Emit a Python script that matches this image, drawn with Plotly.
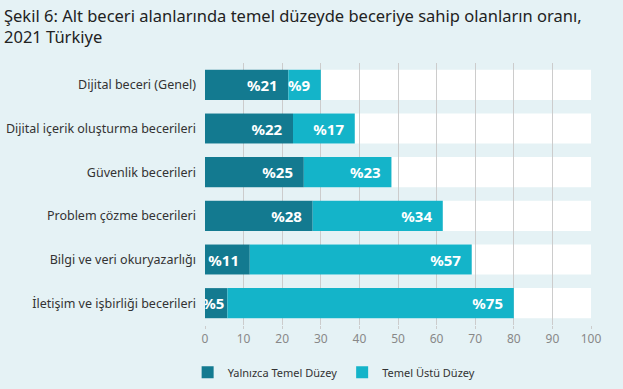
import plotly.graph_objects as go

categories = [
    "Dijital beceri (Genel)",
    "Dijital içerik oluşturma becerileri",
    "Güvenlik becerileri",
    "Problem çözme becerileri",
    "Bilgi ve veri okuryazarlığı",
    "İletişim ve işbirliği becerileri",
]
basic_values = [21.6, 22.8, 25.6, 27.9, 11.6, 5.8]
above_values = [8.4, 16.0, 22.7, 33.7, 57.5, 74.2]
basic_labels = ["%21", "%22", "%25", "%28", "%11", "%5"]
above_labels = ["%9", "%17", "%23", "%34", "%57", "%75"]
x_ticks = [0, 10, 20, 30, 40, 50, 60, 70, 80, 90, 100]
title_lines = ["Şekil 6: Alt beceri alanlarında temel düzeyde beceriye sahip olanların oranı,",
               "2021 Türkiye"]

DARK = "#137a90"
LIGHT = "#14b4c9"
BG = "#e5f2f5"
FONT = "Noto Sans"

W, H = 623, 389
ML, MR, MT, MB = 205, 32, 63, 64
plot_h = H - MT - MB

above_base = [b for b in basic_values]

fig = go.Figure()
pad = "\u00a0\u00a0"
fig.add_trace(go.Bar(
    y=categories, x=basic_values, base=[0] * len(categories), orientation="h",
    name="Yalnızca Temel Düzey", marker=dict(color=DARK, line=dict(width=0)),
    text=[t + (pad if i < 5 else "") for i, t in enumerate(basic_labels)],
    textposition="inside", insidetextanchor="end", textangle=0,
    textfont=dict(color="white", size=15, family=FONT, weight="bold"),
    width=0.69,
))
fig.add_trace(go.Bar(
    y=categories, x=above_values, base=above_base, orientation="h",
    name="Temel Üstü Düzey", marker=dict(color=LIGHT, line=dict(width=0)),
    text=[t + pad for t in above_labels],
    textposition="inside", insidetextanchor="end", textangle=0,
    textfont=dict(color="white", size=15, family=FONT, weight="bold"),
    width=0.69,
))

shapes = []
for i in range(len(categories)):
    shapes.append(dict(type="rect", xref="x", yref="y", x0=0, x1=100,
                       y0=i - 0.345, y1=i + 0.345, fillcolor="white",
                       line=dict(width=0), layer="below"))

fig.update_layout(
    width=W, height=H,
    paper_bgcolor=BG, plot_bgcolor=BG,
    barmode="overlay",
    margin=dict(l=ML, r=MR, t=MT, b=MB, autoexpand=False),
    font=dict(family=FONT, color="#333333"),
    showlegend=True,
    legend=dict(orientation="h", x=-0.045, xanchor="left", y=-0.125, yanchor="top",
                font=dict(size=11, color="#333333", family=FONT),
                bgcolor="rgba(0,0,0,0)", traceorder="normal"),
    uniformtext=dict(minsize=15, mode="show"),
    shapes=shapes,
    annotations=[dict(
        text="<br>".join(title_lines), xref="paper", yref="paper",
        x=-(ML - 2) / (W - ML - MR), xanchor="left",
        y=1 + (MT - 2) / plot_h, yanchor="top", align="left", showarrow=False,
        font=dict(size=16.5, color="#222222", family=FONT),
    )],
)
fig.update_xaxes(
    range=[0, 100], tickvals=x_ticks, showgrid=True, gridcolor="#cccccc", gridwidth=1,
    zeroline=False, showline=False, ticks="outside", ticklen=3, tickcolor="#cccccc",
    tickfont=dict(size=12, color="#888888", family=FONT), fixedrange=True,
    automargin=False,
)
fig.update_yaxes(
    categoryorder="array", categoryarray=categories, autorange="reversed",
    showgrid=False, zeroline=False, showline=False, automargin=False,
    ticks="", ticklabelstandoff=8,
    tickfont=dict(size=12.5, color="#333333", family=FONT),
)

fig.write_html("out.html", config={"displayModeBar": False},
               post_script="document.body.style.margin='0';document.body.style.overflow='hidden';")
